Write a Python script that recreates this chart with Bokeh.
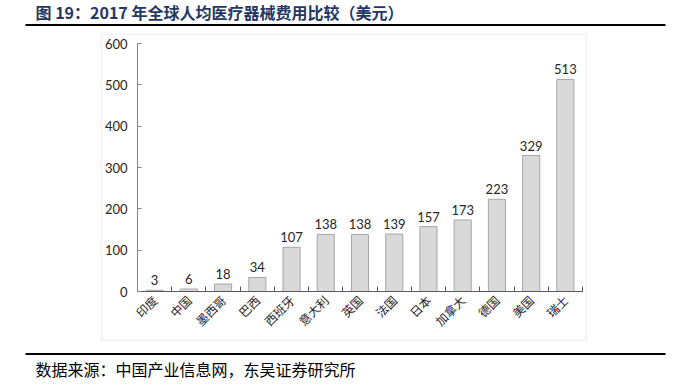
import math
from bokeh.plotting import figure
from bokeh.models import (ColumnDataSource, Range1d, FixedTicker, BoxAnnotation,
                          Label, LinearAxis)
from bokeh.core.properties import value
from bokeh.embed import file_html
from bokeh.resources import INLINE

# ---- data ----
countries = ["印度", "中国", "墨西哥", "巴西", "西班牙", "意大利", "英国",
             "法国", "日本", "加拿大", "德国", "美国", "瑞士"]
spend = [3, 6, 18, 34, 107, 138, 138, 139, 157, 173, 223, 329, 513]
y_ticks = [0, 100, 200, 300, 400, 500, 600]
title_text = "图 19：2017 年全球人均医疗器械费用比较（美元）"
source_text = "数据来源：中国产业信息网，东吴证券研究所"

# ---- layout (canvas pixels) ----
W, H = 676, 381
PL, PR, PT, PB = 137, 582, 43, 291   # plot-area edges
n = len(countries)
YMAX = y_ticks[-1]

xppu = (PR - PL) / n
yppu = (PB - PT) / YMAX
x_range = Range1d(-PL / xppu, n + (W - PR) / xppu)
y_range = Range1d(-(H - PB) / yppu, YMAX + PT / yppu)

xs = [i + 0.5 for i in range(n)]
src = ColumnDataSource(dict(x=xs, y=spend, lab=[str(v) for v in spend]))

p = figure(width=W, height=H, output_backend="svg", toolbar_location=None,
           x_range=x_range, y_range=y_range,
           x_axis_location=None, y_axis_location=None, min_border=0)
p.background_fill_color = "white"
p.border_fill_color = "white"
p.outline_line_color = None
p.grid.visible = False

p.vbar(x="x", top="y", width=0.5, source=src, fill_color="#d9d9d9",
       line_color="#a6a6a6", line_width=1)
p.text(x="x", y="y", text="lab", source=src, text_align="center",
       text_baseline="alphabetic", y_offset=-10, text_font=value("Lato"),
       text_font_size="13px", text_color="#262626")

# y axis
ya = LinearAxis(fixed_location=0, bounds=(0, YMAX))
ya.ticker = FixedTicker(ticks=y_ticks)
ya.axis_line_color = "#868686"
ya.major_tick_line_color = "#868686"
ya.major_tick_in = 4
ya.major_tick_out = 0
ya.minor_tick_line_color = None
ya.major_label_standoff = 10
ya.major_label_text_font = "Lato"
ya.major_label_text_font_size = "13px"
ya.major_label_text_color = "#262626"
p.add_layout(ya, "left")

# x axis
xa = LinearAxis(fixed_location=0, bounds=(0, n))
xa.ticker = FixedTicker(ticks=xs, minor_ticks=list(range(n + 1)))
xa.major_label_overrides = {x: c for x, c in zip(xs, countries)}
xa.major_tick_in = 0
xa.major_tick_out = 0
xa.minor_tick_in = 5
xa.minor_tick_out = 0
xa.axis_line_color = "#595959"
xa.minor_tick_line_color = "#595959"
xa.major_label_orientation = math.pi / 4
xa.major_label_standoff = 6
xa.major_label_text_font = "Noto Sans CJK SC"
xa.major_label_text_font_size = "12px"
xa.major_label_text_color = "#262626"
p.add_layout(xa, "below")


def sy(cy):
    return H - cy


scr = dict(left_units="screen", right_units="screen",
           top_units="screen", bottom_units="screen")
# chart border box
p.add_layout(BoxAnnotation(left=101, right=586, top=sy(34), bottom=sy(340),
                           fill_alpha=0, line_color="#d0d0d0", line_width=1.5, **scr))
# rules under title and above source
for top_c in (23.5, 352.5):
    p.add_layout(BoxAnnotation(left=25, right=665, top=sy(top_c), bottom=sy(top_c + 2),
                               fill_color="black", fill_alpha=1, line_color=None, **scr))

p.add_layout(Label(x=35, y=sy(11), x_units="screen", y_units="screen",
                   text=title_text, text_font="Noto Sans CJK SC", text_font_style="bold",
                   text_font_size="16px", text_color="#1f3864", text_baseline="middle"))
p.add_layout(Label(x=35, y=sy(368.5), x_units="screen", y_units="screen",
                   text=source_text, text_font="Noto Sans CJK SC",
                   text_font_size="16px", text_color="#000000", text_baseline="middle"))

open("out.html", "w").write(file_html(p, INLINE))
